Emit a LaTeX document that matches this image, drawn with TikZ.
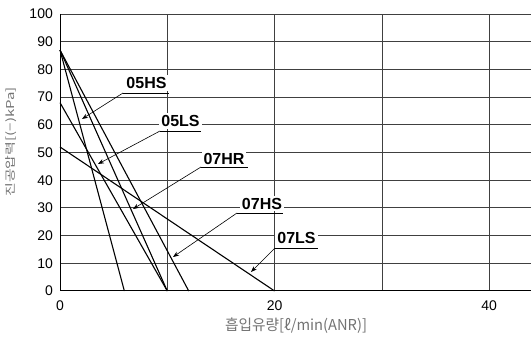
\documentclass[tikz,border=0pt]{standalone}
\usepackage{fontspec}
\setmainfont{Liberation Sans}
\newfontfamily\krfont{Noto Sans CJK KR}
\usetikzlibrary{arrows.meta}
\definecolor{gridc}{gray}{0.25}
\definecolor{axlab}{gray}{0.45}
\tikzset{
  gridline/.style={draw=gridc,line width=0.8pt},
  curve/.style={draw=black,line width=1.1pt},
  lbl/.style={fill=white,inner sep=2pt,font=\fontsize{16}{16}\selectfont\bfseries},
  tick/.style={font=\fontsize{14}{14}\selectfont,inner sep=0pt},
  leader/.style={draw=black,line width=0.6pt},
  pointer/.style={leader,-{Stealth[length=6pt,width=4.5pt]}},
}
\begin{document}
\begin{tikzpicture}[x=1pt,y=1pt]
\useasboundingbox (0,0) rectangle (531,343);
\begin{scope}[shift={(60,52)},x=10.73pt,y=2.77pt]
  % grid
  \foreach \v in {10,20,...,100}{\draw[gridline] (0,\v) -- (43.9,\v);}
  \foreach \u in {10,20,30,40}{\draw[gridline] (\u,0) -- (\u,100);}
  \draw[black,line width=1pt] (0,100) -- (0,0) -- (43.9,0);
  % curves
  \coordinate (s87) at (0,87);
  \coordinate (s68) at (0,68);
  \coordinate (s52) at (0,52);
  \coordinate (e6) at (6,0);
  \coordinate (e10) at (10,0);
  \coordinate (e12) at (12,0);
  \coordinate (e20) at (20,0);
  \draw[curve] (s87) -- (e6);
  \draw[curve] (s87) -- (e10);
  \draw[curve] (s87) -- (e12);
  \draw[curve] (s68) -- (e10);
  \draw[curve] (s52) -- (e20);
  % tick labels
  \foreach \v in {0,10,...,100}{\node[tick,anchor=east] (ty\v) at (-0.65,\v) {\v};}
  \node[tick] (tx0) at (0,-5.3) {0};
  \node[tick] (tx20) at (20,-5.3) {20};
  \node[tick] (tx40) at (40,-5.3) {40};
\end{scope}
% axis titles
\node[text=axlab,rotate=90,inner sep=0pt] (ylab) at (11,201)
  {\krfont\fontsize{15}{15}\selectfont\scalebox{1}[0.72]{진공압력[(−)kPa]}};
\node[text=axlab,inner sep=0pt] (xlab) at (296,17)
  {\krfont\fontsize{15}{15}\selectfont\scalebox{0.98}[1]{흡입유량[ℓ/min(ANR)]}};
% annotations
\foreach \n/\tx/\ty/\ua/\ub/\uy/\px/\py in {
  05HS/146.5/260/123/169/250/82/224,
  05LS/180.5/222/160/201/212/98/179,
  07HR/224/184/201/248/176/133/134,
  07HS/262/139.5/237/283/130/173/86,
  07LS/296.5/105.5/275/318/95/251/71}{
  \node[lbl] (L\n) at (\tx,\ty) {\n};
  \coordinate (U\n a) at (\ua,\uy);
  \coordinate (U\n b) at (\ub,\uy);
  \coordinate (P\n) at (\px,\py);
  \draw[leader] (U\n a) -- (U\n b);
  \draw[pointer] (U\n a) -- (P\n);
}
\end{tikzpicture}
\end{document}
